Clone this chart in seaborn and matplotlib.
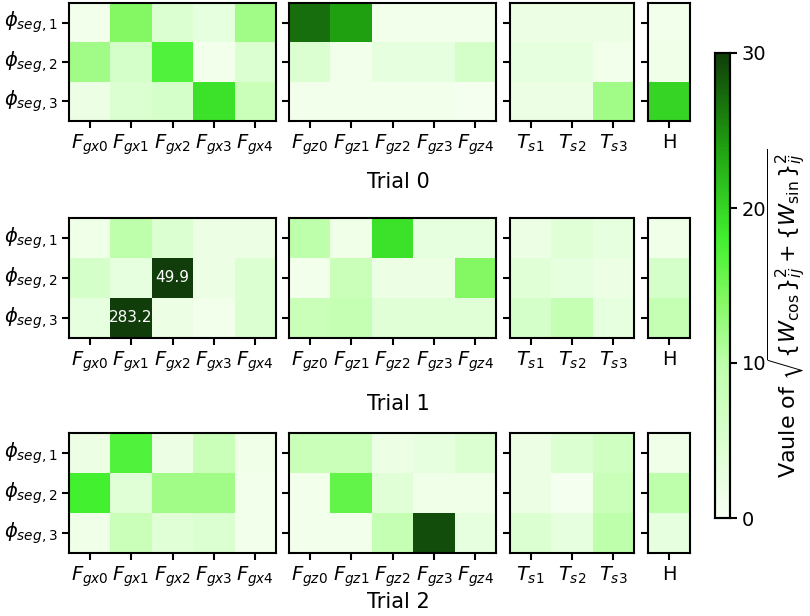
import numpy as np
import matplotlib
matplotlib.use("Agg")
import matplotlib.pyplot as plt
from matplotlib.colors import LinearSegmentedColormap
import seaborn as sns

# Row / column labels
rows = [r"$\phi_{seg,1}$", r"$\phi_{seg,2}$", r"$\phi_{seg,3}$"]
fgx_cols = [r"$F_{gx%d}$" % i for i in range(5)]
fgz_cols = [r"$F_{gz%d}$" % i for i in range(5)]
ts_cols = [r"$T_{s1}$", r"$T_{s2}$", r"$T_{s3}$"]
h_cols = ["H"]
trials = ["Trial 0", "Trial 1", "Trial 2"]

# Values (one list of rows per trial)
fgx = [
    [[1, 14, 5, 3, 12], [12, 6, 17, 1, 5], [2, 5, 6, 19, 8]],
    [[1.5, 10, 5, 2, 2], [6, 3, 49.9, 2, 5], [3, 283.2, 2, 1, 5]],
    [[2, 17, 2, 8, 1.5], [18, 4, 12, 12, 1], [1.5, 8, 4, 5, 1]],
]
fgz = [
    [[27, 24, 1, 1, 1], [5, 1, 3, 3, 6], [1, 1, 1, 1, 0.5]],
    [[10, 1.5, 19, 3, 3], [1, 8, 2, 2, 14], [8, 9, 4, 4, 4]],
    [[8, 8, 2, 3, 5], [1, 16, 4, 1.5, 1.5], [1, 1, 9, 29, 3]],
]
ts = [
    [[2, 2, 2], [3, 3, 1], [2, 2, 12]],
    [[2, 4, 3], [4, 3, 2], [6, 9, 3]],
    [[2, 5, 7], [2, 0.5, 8], [5, 3, 10]],
]
h = [
    [[1], [1.5], [20]],
    [[1.5], [6], [9]],
    [[1.5], [10], [3]],
]

cmap = LinearSegmentedColormap.from_list(
    "wg", [(0, "#f7fff2"), (0.33, "#bfffad"), (0.47, "#82f860"), (0.6, "#42f030"),
           (0.8, "#1fa010"), (1.0, "#103d0a")])

W, H_ = 810, 616
fig = plt.figure(figsize=(W / 100, H_ / 100), dpi=100)


def px_axes(x0, y0, x1, y1):
    return fig.add_axes([x0 / W, 1 - y1 / H_, (x1 - x0) / W, (y1 - y0) / H_])


col_px = [(69, 276), (289, 496), (510, 634), (648, 690)]
row_px = [(3, 121), (218, 338), (433, 553)]
trial_y = [182, 404, 602]
cbar_ax = px_axes(715, 53, 730, 518)

for t in range(3):
    blocks = [(fgx[t], fgx_cols), (fgz[t], fgz_cols), (ts[t], ts_cols), (h[t], h_cols)]
    y0, y1 = row_px[t]
    for k, (vals, cols) in enumerate(blocks):
        x0, x1 = col_px[k]
        ax = px_axes(x0, y0, x1, y1)
        arr = np.array(vals, dtype=float)
        labels = np.where(arr > 30, np.char.mod("%.1f", arr), "")
        first = (t == 0 and k == 0)
        sns.heatmap(arr, ax=ax, cmap=cmap, vmin=0, vmax=30,
                    annot=labels, fmt="", annot_kws={"color": "white", "fontsize": 11},
                    xticklabels=cols, yticklabels=rows if k == 0 else False,
                    cbar=first, cbar_ax=cbar_ax if first else None)
        for s in ax.spines.values():
            s.set_visible(True)
            s.set_linewidth(1.5)
        ax.tick_params(axis="both", length=5, width=1.5, labelsize=14)
        ax.set_xticklabels(cols, rotation=0, fontsize=14)
        if k == 0:
            ax.set_yticklabels(rows, rotation=0, fontsize=14)
        else:
            ax.set_yticks(np.arange(3) + 0.5)
            ax.set_yticklabels([])
    fig.text(398 / W, 1 - trial_y[t] / H_, trials[t], ha="center", va="center", fontsize=15)

cbar_ax.tick_params(labelsize=14, length=5, width=1.5)
cbar_ax.set_yticks([0, 10, 20, 30])
for s in cbar_ax.spines.values():
    s.set_visible(True)
    s.set_linewidth(1.5)
cbar_ax.set_ylabel(r"Vaule of $\sqrt{\{W_{\cos}\}_{ij}^2 + \{W_{\sin}\}_{ij}^2}$",
                   fontsize=16)
cbar_ax.yaxis.set_label_coords(3.35, 0.44)

fig.savefig("out.png", dpi=100)
